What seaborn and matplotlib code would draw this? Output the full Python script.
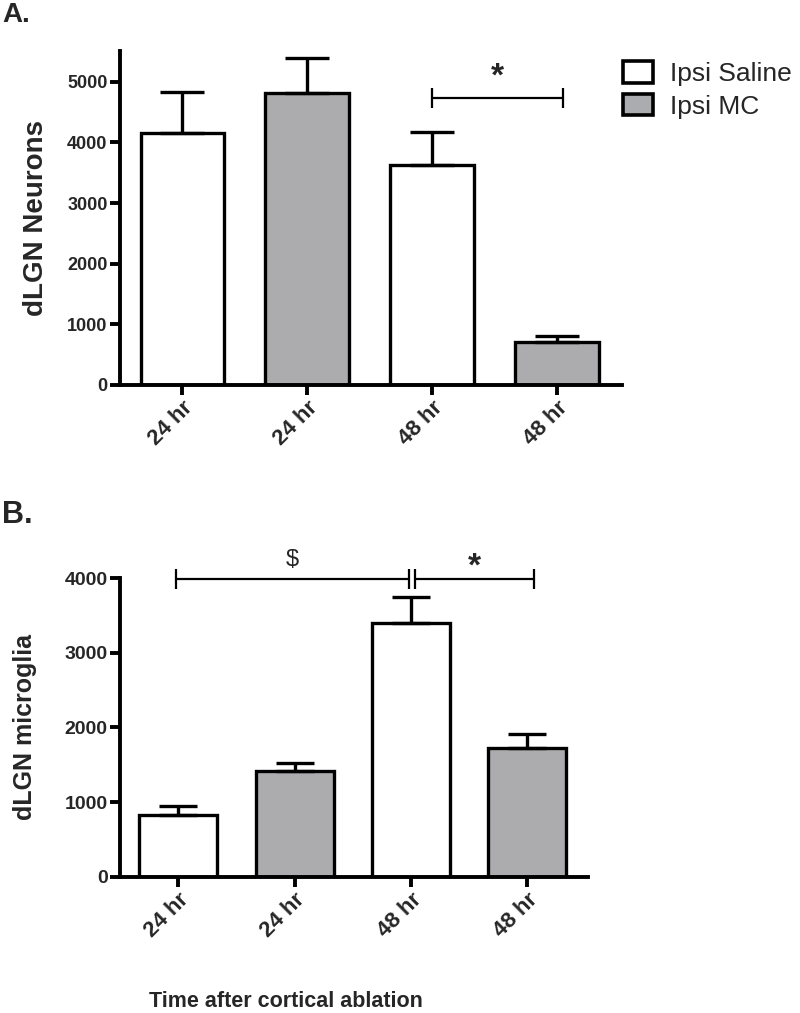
import numpy as np
import pandas as pd
import matplotlib
matplotlib.use("Agg")
import matplotlib.pyplot as plt
from matplotlib.patches import Patch
import seaborn as sns

# 数据
groups = ["sal24", "mc24", "sal48", "mc48"]
time_labels = ["24 hr", "24 hr", "48 hr", "48 hr"]
treatment = ["Ipsi Saline", "Ipsi MC", "Ipsi Saline", "Ipsi MC"]
neurons = [4160, 4820, 3630, 710]
neurons_err = [670, 580, 545, 90]
microglia = [827, 1417, 3405, 1721]
microglia_err = [121, 111, 340, 188]

colors = {"Ipsi Saline": "white", "Ipsi MC": "#abacb0"}

sns.set_style("ticks")
plt.rcParams['font.family'] = ['Liberation Sans', 'DejaVu Sans']

fig = plt.figure(figsize=(8, 10.13), dpi=100)
ax1 = fig.add_axes([0.15, 0.620, 0.6275, 0.3297])
ax2 = fig.add_axes([0.15, 0.1346, 0.585, 0.2945])


def draw_panel(ax, vals, errs, ylabel, ylim, ticks, tick_fs, ylabel_fs, cap, lpad):
    df = pd.DataFrame({"group": groups, "value": vals, "treatment": treatment})
    sns.barplot(data=df, x="group", y="value", hue="treatment", order=groups,
                palette=colors, dodge=False, width=0.67, edgecolor="black",
                linewidth=2.4, errorbar=None, legend=False, ax=ax)
    ax.errorbar(np.arange(len(vals)), vals, yerr=[np.zeros(len(vals)), errs],
                fmt="none", ecolor="black", elinewidth=2.4, capsize=cap,
                capthick=2.4, zorder=1)
    ax.set_xlim(-0.5, 3.52)
    ax.set_ylim(*ylim)
    ax.set_yticks(ticks)
    ax.set_yticklabels([str(t) for t in ticks], fontsize=tick_fs, fontweight="bold")
    ax.set_xticks(range(len(groups)))
    ax.set_xticklabels(time_labels, rotation=45, ha="right", rotation_mode="anchor",
                       fontsize=16, fontweight="bold")
    ax.set_xlabel("")
    ax.set_ylabel(ylabel, fontsize=ylabel_fs, fontweight="bold", labelpad=lpad)
    sns.despine(ax=ax)
    for s in ["left", "bottom"]:
        ax.spines[s].set_linewidth(2.8)
        ax.spines[s].set_color("black")
    ax.tick_params(width=2.8, length=7, color="black", pad=2)


def sig_bar(ax, x0, x1, y, text, ty, bold=True, fs=24):
    ax.plot([x0, x1], [y, y], color="black", lw=1.6, clip_on=False)
    ax.plot([x0, x1], [y, y], ls="none", marker="|", ms=14, mew=1.6,
            color="black", clip_on=False)
    ax.text((x0 + x1) / 2, ty, text, ha="center", va="center", fontsize=fs,
            fontweight="bold" if bold else "normal", clip_on=False)


draw_panel(ax1, neurons, neurons_err, "dLGN Neurons", (0, 5510),
           [0, 1000, 2000, 3000, 4000, 5000], 13, 20, 16, 13)
draw_panel(ax2, microglia, microglia_err, "dLGN microglia", (0, 4000),
           [0, 1000, 2000, 3000, 4000], 14, 18, 14, 20)

sig_bar(ax1, 2.0, 3.05, 4735, "*", 5080)
sig_bar(ax2, -0.02, 1.98, 3990, "$", 4250, bold=False, fs=17)
sig_bar(ax2, 2.03, 3.06, 3990, "*", 4150)

handles = [Patch(facecolor=colors[t], edgecolor="black", linewidth=2.6)
           for t in ["Ipsi Saline", "Ipsi MC"]]
fig.legend(handles, ["Ipsi Saline", "Ipsi MC"], loc="upper left",
           bbox_to_anchor=(623 / 800, 1 - 61 / 1013), frameon=False,
           fontsize=19, handlelength=1.15, handleheight=0.88,
           handletextpad=0.65, labelspacing=0.3, borderpad=0, borderaxespad=0)

fig.text(0.003, 1 - 2 / 1013, "A.", fontsize=20, fontweight="bold", va="top")
fig.text(0.003, 1 - 500 / 1013, "B.", fontsize=22, fontweight="bold", va="top")
fig.text(286 / 800, 1 - 1001 / 1013, "Time after cortical ablation",
         fontsize=15.5, fontweight="bold", ha="center", va="center")

fig.savefig("out.png", dpi=100)
